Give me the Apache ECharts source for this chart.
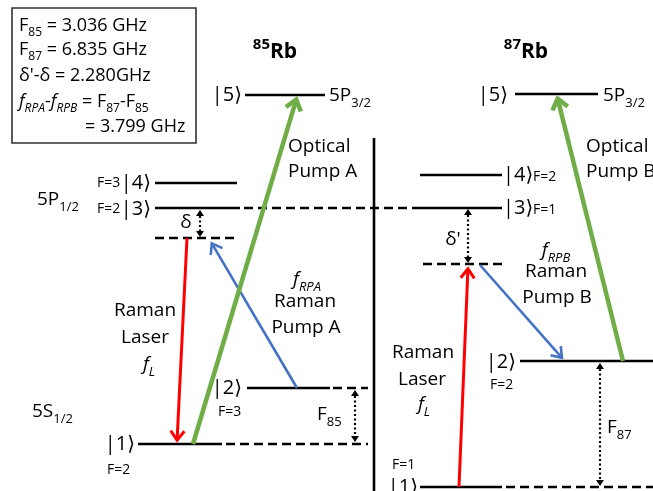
<!DOCTYPE html>
<html><head><meta charset="utf-8">
<script src="https://cdn.jsdelivr.net/npm/echarts@6/dist/echarts.min.js"></script>
<style>html,body{margin:0;padding:0;background:#fff}#c{width:653px;height:491px}</style>
</head><body><div id="c"></div>
<script>
// ---- diagram data (diagram units: x 0..653, y 0..491 downward) ----
const solidLevels = [
  [245,325,95], [155,237,183], [155,240,208], [247,330,388], [138,222,444],
  [515,598,94], [420,502,175], [420,502,208], [520,653,361], [420,502,487]
];
const dashedLevels = [
  [155,237,238], [244,420,208], [333,368,388], [226,368,444],
  [423,502,264], [506,653,487]
];
const dividers = [[374,138,374,491]];
const redArrows = [[187,238,177,442],[459,487,468,267]];
const greenArrows = [[193,444,297,97],[623,361,557,96]];
const blueArrows = [[297,388,211,242],[480,265,563,359]];
const gapArrows = [[200,210,200,237],[468,209,468,263],[355,390,355,442],[600,363,600,486]];
const noteBox = [[12,8,196,143]];
const noteLines = [
  [19,26,'{n|F}{s|85}{n| = 3.036 GHz}','left'],
  [19,50,'{n|F}{s|87}{n| = 6.835 GHz}','left'],
  [19,76,"{n|δ'-δ = 2.280GHz}",'left'],
  [19,102,'{i|f}{si|RPA}{n|-}{i|f}{si|RPB}{n| = F}{s|87}{n|-F}{s|85}','left'],
  [85,127,'{n|= 3.799 GHz}','left']
];
const titles = [[275,52,'{p|85}{b|Rb}','center'],[526,52,'{p|87}{b|Rb}','center']];
const ketLabels = [
  [242,95,'{n||5⟩}','right'], [151,183,'{n||4⟩}','right'], [151,209,'{n||3⟩}','right'],
  [242,388,'{n||2⟩}','right'], [135,444,'{n||1⟩}','right'],
  [508,95,'{n||5⟩}','right'], [503,175,'{n||4⟩}','left'], [503,208,'{n||3⟩}','left'],
  [516,362,'{n||2⟩}','right'], [418,487,'{n||1⟩}','right']
];
const bigLabels = [
  [329,96,'{n|5P}{s|3/2}','left'],
  [37,200,'{n|5P}{s|1/2}','left'], [186,223,'{n|δ}','center'],
  [145,311,'{n|Raman}','center'], [145,338,'{n|Laser}','center'], [149,365,'{i|f}{si|L}','center'],
  [32,412,'{n|5S}{s|1/2}','left'],
  [317,415,'{n|F}{s|85}','left'],
  [288,147,'{n|Optical}','left'], [288,172,'{n|Pump A}','left'],
  [307,280,'{i|f}{si|RPA}','center'], [305,302,'{n|Raman}','center'], [306,328,'{n|Pump A}','center'],
  [603,96,'{n|5P}{s|3/2}','left'],
  [453,240,"{n|δ'}",'center'],
  [556,251,'{i|f}{si|RPB}','center'], [556,272,'{n|Raman}','center'], [557,298,'{n|Pump B}','center'],
  [586,147,'{n|Optical}','left'], [586,172,'{n|Pump B}','left'],
  [423,353,'{n|Raman}','center'], [422,380,'{n|Laser}','center'], [424,405,'{i|f}{si|L}','center'],
  [607,428,'{n|F}{s|87}','left']
];
const smallLabels = [
  [97,183,'{n|F=3}','left'], [97,209,'{n|F=2}','left'],
  [218,412,'{n|F=3}','left'], [107,470,'{n|F=2}','left'],
  [533,177,'{n|F=2}','left'], [533,210,'{n|F=1}','left'],
  [490,385,'{n|F=2}','left'], [392,465,'{n|F=1}','left']
];

// ---- rendering ----
const FONT = "'Open Sans', 'DejaVu Sans', sans-serif";
function richFor(size) {
  const lh = size + 8, sub = Math.round(size * 0.66);
  const base = {fontFamily: FONT, fill: '#000', color: '#000'};
  return {
    n: Object.assign({fontSize: size, lineHeight: lh}, base),
    i: Object.assign({fontSize: size, lineHeight: lh, fontStyle: 'italic'}, base),
    s: Object.assign({fontSize: sub, lineHeight: sub, verticalAlign: 'bottom'}, base),
    si: Object.assign({fontSize: sub, lineHeight: sub, verticalAlign: 'bottom', fontStyle: 'italic'}, base),
    p: Object.assign({fontSize: sub + 1, lineHeight: sub, verticalAlign: 'top', fontWeight: 'bold'}, base),
    b: Object.assign({fontSize: size, lineHeight: lh, fontWeight: 'bold'}, base)
  };
}
function xy(d) { return d.map(r => [r[0], r[1]]); }

function textSeries(arr, size) {
  const rich = richFor(size);
  return {
    type: 'custom', clip: false, silent: true, data: xy(arr),
    renderItem: (params, api) => {
      const d = arr[params.dataIndex];
      const p = api.coord([d[0], d[1]]);
      return {type: 'text', x: p[0], y: p[1], style: {
        text: d[2], rich: rich, fontFamily: FONT, fontSize: size, fill: '#000',
        align: d[3], verticalAlign: 'middle', textAlign: d[3], textVerticalAlign: 'middle'
      }};
    }
  };
}
function levelSeries(arr, dashed) {
  return {
    type: 'custom', clip: false, silent: true, data: arr.map(r => [r[0], r[2]]),
    renderItem: (params, api) => {
      const d = arr[params.dataIndex];
      const a = api.coord([d[0], d[2]]), b = api.coord([d[1], d[2]]);
      return {type: 'line', shape: {x1: a[0], y1: a[1], x2: b[0], y2: b[1]},
        style: {stroke: '#000', lineWidth: 2.6, lineDash: dashed ? [9, 5] : null}};
    }
  };
}
function segSeries(arr, color, width) {
  return {
    type: 'custom', clip: false, silent: true, data: xy(arr),
    renderItem: (params, api) => {
      const d = arr[params.dataIndex];
      const a = api.coord([d[0], d[1]]), b = api.coord([d[2], d[3]]);
      return {type: 'line', shape: {x1: a[0], y1: a[1], x2: b[0], y2: b[1]},
        style: {stroke: color, lineWidth: width}};
    }
  };
}
function arrowSeries(arr, color, width, head) {
  return {
    type: 'custom', clip: false, silent: true, data: xy(arr),
    renderItem: (params, api) => {
      const d = arr[params.dataIndex];
      const a = api.coord([d[0], d[1]]), b = api.coord([d[2], d[3]]);
      const ang = Math.atan2(b[1] - a[1], b[0] - a[0]);
      const h1 = [b[0] + head * Math.cos(ang + Math.PI - 0.55), b[1] + head * Math.sin(ang + Math.PI - 0.55)];
      const h2 = [b[0] + head * Math.cos(ang + Math.PI + 0.55), b[1] + head * Math.sin(ang + Math.PI + 0.55)];
      const e = [b[0] - Math.cos(ang) * width * 0.6, b[1] - Math.sin(ang) * width * 0.6];
      return {type: 'group', children: [
        {type: 'line', shape: {x1: a[0], y1: a[1], x2: e[0], y2: e[1]}, style: {stroke: color, lineWidth: width}},
        {type: 'polyline', shape: {points: [h1, e, h2]}, style: {stroke: color, lineWidth: width, fill: null, lineJoin: 'miter', lineCap: 'butt'}}
      ]};
    }
  };
}
function gapSeries(arr) {
  return {
    type: 'custom', clip: false, silent: true, data: xy(arr),
    renderItem: (params, api) => {
      const d = arr[params.dataIndex];
      const a = api.coord([d[0], d[1]]), b = api.coord([d[2], d[3]]);
      const w = 4, L = 6;
      return {type: 'group', children: [
        {type: 'line', shape: {x1: a[0], y1: a[1] + L, x2: b[0], y2: b[1] - L},
          style: {stroke: '#000', lineWidth: 2.2, lineDash: [2, 2.5]}},
        {type: 'polygon', shape: {points: [[a[0], a[1]], [a[0] - w, a[1] + L], [a[0] + w, a[1] + L]]}, style: {fill: '#000'}},
        {type: 'polygon', shape: {points: [[b[0], b[1]], [b[0] - w, b[1] - L], [b[0] + w, b[1] - L]]}, style: {fill: '#000'}}
      ]};
    }
  };
}
function boxSeries(arr) {
  return {
    type: 'custom', clip: false, silent: true, data: xy(arr),
    renderItem: (params, api) => {
      const d = arr[params.dataIndex];
      const a = api.coord([d[0], d[1]]), b = api.coord([d[2], d[3]]);
      return {type: 'rect', shape: {x: a[0], y: a[1], width: b[0] - a[0], height: b[1] - a[1]},
        style: {stroke: '#333', lineWidth: 1.6, fill: null}};
    }
  };
}

const chart = echarts.init(document.getElementById('c'), null, {renderer: 'canvas'});
chart.setOption({
  backgroundColor: '#fff',
  animation: false,
  grid: {left: 0, right: 0, top: 0, bottom: 0},
  xAxis: {type: 'value', min: 0, max: 653, show: false},
  yAxis: {type: 'value', min: 0, max: 491, inverse: true, show: false},
  series: [
    boxSeries(noteBox),
    levelSeries(solidLevels, false),
    levelSeries(dashedLevels, true),
    segSeries(dividers, '#000', 2.6),
    gapSeries(gapArrows),
    arrowSeries(blueArrows, '#4472c4', 2.6, 13),
    arrowSeries(redArrows, '#ff0000', 3, 13),
    arrowSeries(greenArrows, '#70ad47', 4.5, 15),
    textSeries(noteLines, 18),
    textSeries(titles, 21),
    textSeries(ketLabels, 20),
    textSeries(bigLabels, 19),
    textSeries(smallLabels, 14)
  ]
});
</script></body></html>
